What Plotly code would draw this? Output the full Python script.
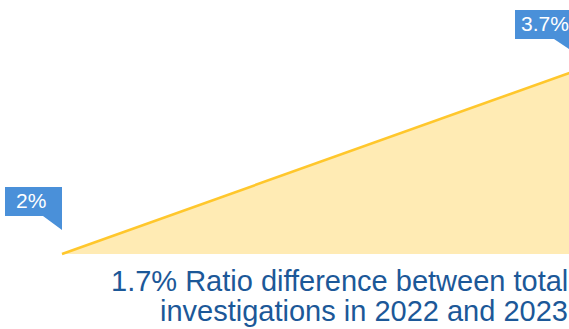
import plotly.graph_objects as go

years = [2022, 2023]
ratios = [2.0, 3.7]
labels = ["2%", "3.7%"]
caption_lines = ["1.7% Ratio difference between total", "investigations in 2022 and 2023"]

W, H = 569, 329
LINE = "#FFC72C"
FILL = "#FFEBB4"
BOX = "#4A90D9"
TXT = "#1C5898"

PX_X = 513.0            # pixels per year
PX_Y = 183.1 / 1.7      # pixels per percentage point
X0_PX, Y0_PX = 62, 254  # pixel position of first point

fig = go.Figure()
fig.add_trace(go.Scatter(x=years, y=[ratios[0]] * len(years), mode="lines",
                         line=dict(width=0), hoverinfo="skip", showlegend=False))
fig.add_trace(go.Scatter(x=years, y=ratios, mode="lines", fill="tonexty",
                         fillcolor=FILL, line=dict(color=LINE, width=2.6),
                         hoverinfo="skip", showlegend=False))

# callout shapes (pixel offsets relative to data points)
box_paths = [
    "M -57,67 L 0,67 L 0,24 L -19,38 L -57,38 Z",
    "M -60,61 L 0,61 L 0,18 L -21,32 L -60,32 Z",
]
# label text centres in pixels
text_px = [(31, 200.5), (545, 23.7)]
for i in range(len(years)):
    fig.add_shape(type="path", xref="x", yref="y", xsizemode="pixel", ysizemode="pixel",
                  xanchor=years[i], yanchor=ratios[i], path=box_paths[i],
                  fillcolor=BOX, line=dict(width=0), layer="above")
    tx = years[0] + (text_px[i][0] - X0_PX) / PX_X
    ty = ratios[0] + (Y0_PX - text_px[i][1]) / PX_Y
    fig.add_annotation(x=tx, y=ty, xref="x", yref="y", text=labels[i],
                       showarrow=False, xanchor="center", yanchor="middle",
                       font=dict(family="Liberation Sans, Arial", size=21, color="white"))

cap_y = [281, 311]
for i, t in enumerate(caption_lines):
    fig.add_annotation(x=570 / W, y=1 - cap_y[i] / H, xref="paper", yref="paper",
                       xanchor="right", yanchor="middle", text=t, showarrow=False,
                       font=dict(family="Liberation Sans, Arial", size=29, color=TXT))

xr0 = years[0] - X0_PX / PX_X
xr1 = years[0] + (W - X0_PX) / PX_X
yr1 = ratios[0] + Y0_PX / PX_Y
yr0 = ratios[0] - (H - Y0_PX) / PX_Y

fig.update_layout(
    width=W, height=H, margin=dict(l=0, r=0, t=0, b=0),
    paper_bgcolor="white", plot_bgcolor="white",
    xaxis=dict(range=[xr0, xr1], visible=False, fixedrange=True),
    yaxis=dict(range=[yr0, yr1], visible=False, fixedrange=True),
    showlegend=False,
)
fig.write_html("out.html", config={"displayModeBar": False},
               post_script="document.body.style.margin='0';document.body.style.overflow='hidden';")
